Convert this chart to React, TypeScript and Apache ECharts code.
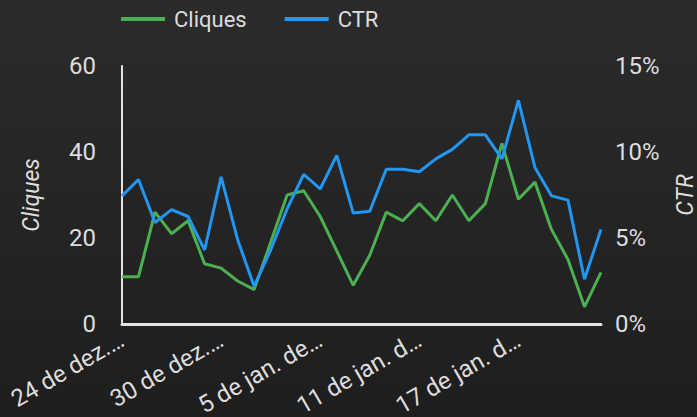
import React, { useEffect, useRef } from "react";
import * as echarts from "echarts";

const categories = [
  "24 de dez. de 2023", "25 de dez. de 2023", "26 de dez. de 2023", "27 de dez. de 2023",
  "28 de dez. de 2023", "29 de dez. de 2023", "30 de dez. de 2023", "31 de dez. de 2023",
  "1 de jan. de 2024", "2 de jan. de 2024", "3 de jan. de 2024", "4 de jan. de 2024",
  "5 de jan. de 2024", "6 de jan. de 2024", "7 de jan. de 2024", "8 de jan. de 2024",
  "9 de jan. de 2024", "10 de jan. de 2024", "11 de jan. de 2024", "12 de jan. de 2024",
  "13 de jan. de 2024", "14 de jan. de 2024", "15 de jan. de 2024", "16 de jan. de 2024",
  "17 de jan. de 2024", "18 de jan. de 2024", "19 de jan. de 2024", "20 de jan. de 2024",
  "21 de jan. de 2024", "22 de jan. de 2024",
];

const tickLabels = ["24 de dez.…", "30 de dez.…", "5 de jan. de…", "11 de jan. d…", "17 de jan. d…"];

const clicks = [11, 11, 26, 21, 24, 14, 13, 10, 8, 19, 30, 31, 25, 17, 9, 16, 26, 24, 28, 24, 30, 24, 28, 42, 29, 33, 22, 15, 4, 12];

const ctr = [7.45, 8.4, 5.9, 6.65, 6.25, 4.3, 8.55, 4.9, 2.2, 4.3, 6.7, 8.7, 7.85, 9.8, 6.45, 6.55, 9.0, 9.0, 8.85, 9.6, 10.15, 11.0, 11.0, 9.6, 13.0, 9.1, 7.45, 7.2, 2.6, 5.5];

const TEXT = "#dddddd";
const AXIS = "#e3e3e3";
const FONT = "Roboto";

export default function App() {
  const ref = useRef<HTMLDivElement>(null);
  useEffect(() => {
    const chart = echarts.init(ref.current!, null, { renderer: "svg" });
    chart.setOption({
      animation: false,
      backgroundColor: "transparent",
      textStyle: { fontFamily: FONT },
      legend: {
        left: 121,
        top: 8,
        padding: 0,
        itemGap: 38,
        itemWidth: 44,
        itemHeight: 4,
        icon: "rect",
        textStyle: { color: TEXT, fontSize: 22, fontFamily: FONT, padding: [0, 0, 0, 4] },
        data: ["Cliques", "CTR"],
      },
      grid: { left: 122, right: 96, top: 66, bottom: 93, containLabel: false, outerBoundsMode: "none" },
      xAxis: {
        type: "category",
        data: categories,
        boundaryGap: false,
        axisLine: { show: true, lineStyle: { color: AXIS, width: 3 } },
        axisTick: { show: false },
        splitLine: { show: false },
        axisLabel: {
          interval: 5,
          rotate: 30,
          margin: 14,
          color: TEXT,
          fontSize: 24,
          fontFamily: FONT,
          formatter: (_v: string, i: number) => tickLabels[i / 6] ?? "",
        },
      },
      yAxis: [
        {
          type: "value",
          min: 0,
          max: 60,
          interval: 20,
          name: "Cliques",
          nameLocation: "middle",
          nameRotate: 90,
          nameGap: 79,
          nameTextStyle: { color: TEXT, fontSize: 23, fontStyle: "italic", fontFamily: FONT },
          axisLine: { show: true, lineStyle: { color: AXIS, width: 2 } },
          axisTick: { show: false },
          splitLine: { show: false },
          axisLabel: { color: TEXT, fontSize: 24, margin: 26, fontFamily: FONT },
        },
        {
          type: "value",
          min: 0,
          max: 15,
          interval: 5,
          position: "right",
          name: "CTR",
          nameLocation: "middle",
          nameRotate: 90,
          nameGap: 73,
          nameTextStyle: { color: TEXT, fontSize: 23, fontStyle: "italic", fontFamily: FONT },
          axisLine: { show: false },
          axisTick: { show: false },
          splitLine: { show: false },
          axisLabel: { color: TEXT, fontSize: 24, margin: 14, fontFamily: FONT, formatter: "{value}%" },
        },
      ],
      series: [
        {
          name: "Cliques",
          type: "line",
          data: clicks,
          yAxisIndex: 0,
          symbol: "none",
          color: "#4caf50",
          lineStyle: { color: "#4caf50", width: 3 },
        },
        {
          name: "CTR",
          type: "line",
          data: ctr,
          yAxisIndex: 1,
          symbol: "none",
          color: "#2196f3",
          lineStyle: { color: "#2196f3", width: 3 },
        },
      ],
    });
    return () => chart.dispose();
  }, []);
  return (
    <div
      ref={ref}
      style={{
        position: "fixed",
        left: 0,
        top: 0,
        width: 697,
        height: 417,
        background: "linear-gradient(#2b2b2b, #1e1e1e)",
      }}
    />
  );
}
